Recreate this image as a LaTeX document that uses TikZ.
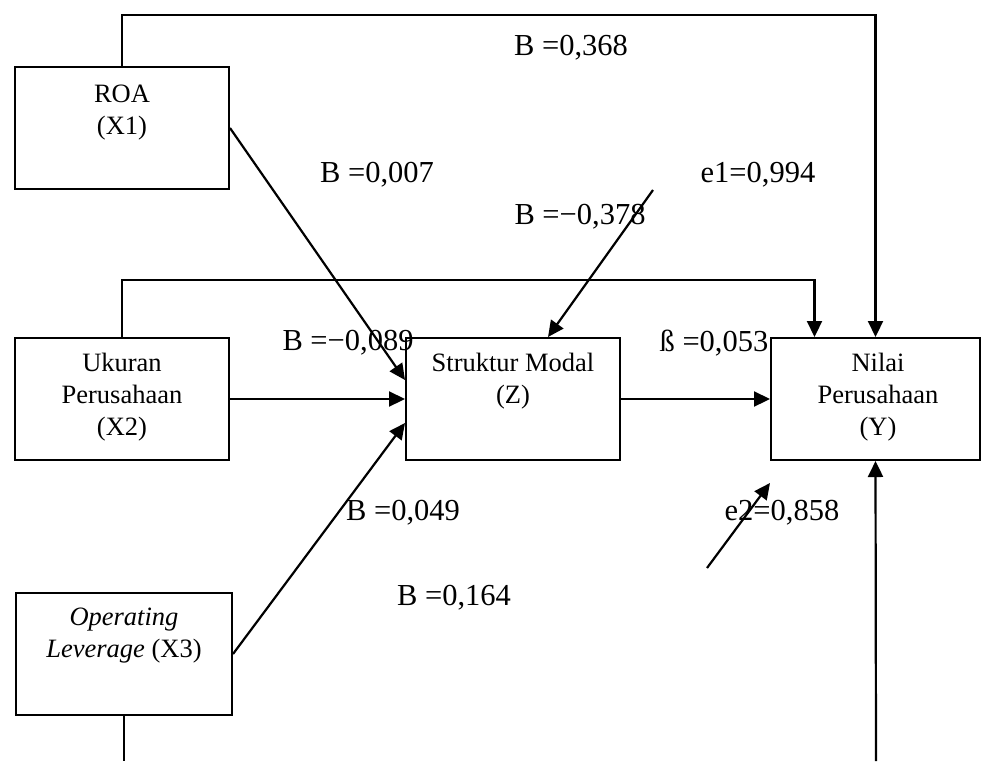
\documentclass[tikz,border=0pt]{standalone}
\usepackage{fontspec}
\setmainfont{Liberation Serif}
\usetikzlibrary{arrows.meta,calc}
\begin{document}
\begin{tikzpicture}[x=1pt,y=-1pt,
  varbox/.style={draw,line width=2pt,rectangle,inner sep=0pt},
  boxtext/.style={align=center,font=\fontsize{26.5}{32}\selectfont,inner sep=0pt},
  coef/.style={font=\fontsize{30.5}{32}\selectfont,inner sep=0pt},
  link/.style={line width=2.2pt},
  arr/.style={link,-{Triangle[length=16pt,width=15pt]}}]
\useasboundingbox (0,0) rectangle (982,761);

% variable boxes
\node[varbox,minimum width=214pt,minimum height=122pt] (X1) at (122,128) {};
\node[varbox,minimum width=214pt,minimum height=122pt] (X2) at (122,399) {};
\node[varbox,minimum width=216pt,minimum height=122pt] (X3) at (124,654) {};
\node[varbox,minimum width=214pt,minimum height=122pt] (Z) at (513,399) {};
\node[varbox,minimum width=209pt,minimum height=122pt] (Y) at (875.5,399) {};

% box captions
\node[boxtext] (tX1) at (122,113) {ROA\\(X1)};
\node[boxtext] (tX2) at (122,397) {Ukuran\\Perusahaan\\(X2)};
\node[boxtext] (tX3) at (124,636) {\textit{Operating}\\\textit{Leverage} (X3)};
\node[boxtext] (tZ) at (513,381) {Struktur Modal\\(Z)};
\node[boxtext] (tY) at (878,397) {Nilai\\Perusahaan\\(Y)};

% free ends
\coordinate (e1s) at (653,190);
\coordinate (e2s) at (707,568);
\coordinate (botY) at (876,761);
\coordinate (botX3) at (124,761);

% paths into the structure variable
\draw[arr] (X1.east) -- ([yshift=19pt]Z.west);
\draw[arr] (X2.east) -- (Z.west);
\draw[arr] (X3.east) -- ([yshift=-24pt]Z.west);
\draw[arr] (e1s) -- ([xshift=35pt]Z.north);

% paths into firm value
\draw[arr] (Z.east) -- (Y.west);
\draw[arr] (e2s) -- ([yshift=-22pt]Y.south west);
\draw[arr] (X1.north) -- (X1.north |- 0,15) -- (Y.north |- 0,15) -- (Y.north);
\draw[arr] (X2.north) -- (X2.north |- 0,280) -- ([xshift=-61pt]Y.north |- 0,280) -- ([xshift=-61pt]Y.north);
\draw[arr] (botY) -- (Y.south);
\draw[link] (X3.south) -- (botX3);

% coefficients
\node[coef] (c1) at (571,48) {B =0,368};
\node[coef] (c2) at (377,175) {B =0,007};
\node[coef] (c3) at (758,175) {e1=0,994};
\node[coef] (c4) at (580,217) {B =−0,378};
\node[coef] (c5) at (348,343) {B =−0,089};
\node[coef] (c6) at (714,343) {ß =0,053};
\node[coef] (c7) at (403,513) {B =0,049};
\node[coef] (c8) at (782,513) {e2=0,858};
\node[coef] (c9) at (454,598) {B =0,164};
\end{tikzpicture}
\end{document}
